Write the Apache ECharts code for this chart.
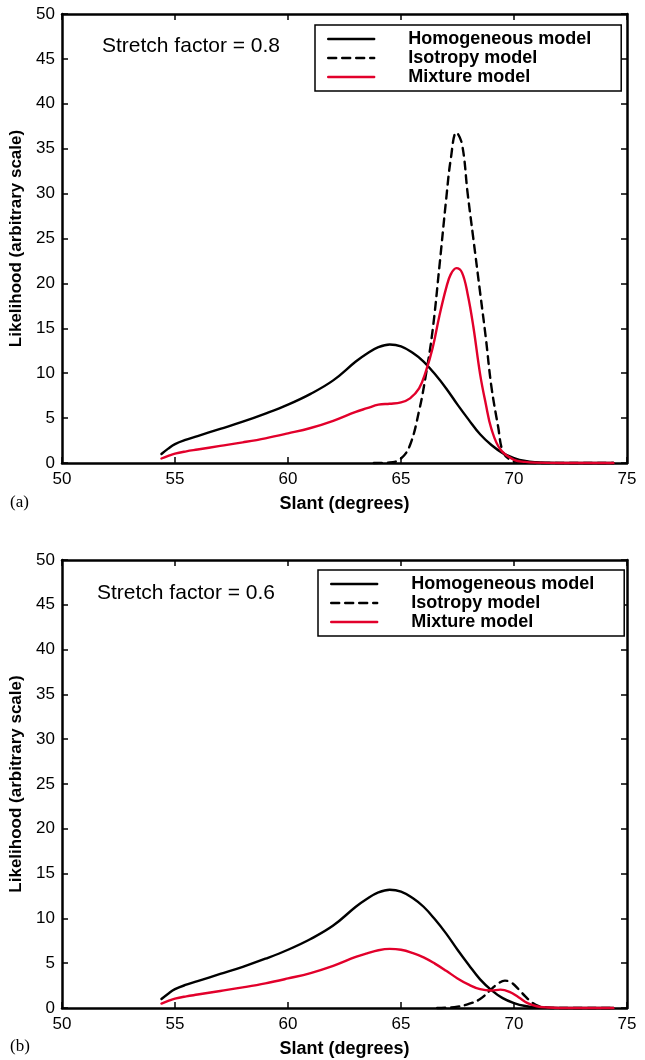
<!DOCTYPE html>
<html>
<head>
<meta charset="utf-8">
<script src="https://cdn.jsdelivr.net/npm/echarts@6/dist/echarts.min.js"></script>
<style>
  html, body { margin: 0; padding: 0; background: #fff; }
  #chart { width: 645px; height: 1060px; }
</style>
</head>
<body>
<div id="chart"></div>
<script>
// Slant (degrees) sample positions and likelihood values for each model
const homogSlant = [54.4, 54.7, 55, 55.5, 56, 57, 58, 59, 60, 61, 62, 63, 63.5, 64, 64.5, 65, 65.5, 66, 66.5, 67, 67.5, 68, 68.5, 69, 69.5, 70, 70.5, 71, 71.5, 72, 73, 74.4];
const homogValues = [1.0, 1.6, 2.1, 2.6, 3.0, 3.8, 4.6, 5.5, 6.5, 7.7, 9.2, 11.3, 12.2, 12.9, 13.2, 13.0, 12.3, 11.3, 9.9, 8.3, 6.5, 4.8, 3.2, 2.0, 1.1, 0.55, 0.22, 0.08, 0.03, 0.01, 0, 0];

// Panel (a): stretch factor 0.8
const isoSlantA = [63.8, 64.5, 65.0, 65.4, 65.8, 66.1, 66.4, 66.7, 67.0, 67.2, 67.45, 67.7, 67.95, 68.2, 68.5, 68.75, 69.0, 69.3, 69.5, 69.8, 70.2, 71.0, 74.4];
const isoValuesA = [0, 0.05, 0.5, 2.0, 5.8, 9.8, 14.8, 21.9, 29.4, 33.8, 36.8, 35.5, 30.0, 25.0, 19.0, 14.0, 8.5, 4.0, 1.3, 0.4, 0.1, 0, 0];
const mixSlantA = [54.4, 54.7, 55, 55.5, 56, 57, 58, 59, 60, 61, 62, 63, 63.5, 64, 64.5, 65, 65.4, 65.8, 66.1, 66.4, 66.7, 67.0, 67.2, 67.45, 67.7, 67.95, 68.2, 68.5, 68.75, 69.0, 69.4, 70, 70.5, 71, 72, 74.4];
const mixValuesA = [0.5, 0.8, 1.05, 1.3, 1.5, 1.9, 2.3, 2.75, 3.3, 3.9, 4.7, 5.7, 6.1, 6.5, 6.6, 6.75, 7.2, 8.3, 10.2, 12.8, 16.4, 19.5, 21.0, 21.7, 21.2, 18.8, 15.2, 9.9, 6.6, 3.8, 1.5, 0.35, 0.12, 0.04, 0, 0];

// Panel (b): stretch factor 0.6
const isoSlantB = [66.6, 67.0, 67.5, 68.0, 68.5, 69.0, 69.3, 69.6, 69.9, 70.2, 70.5, 70.8, 71.1, 71.5, 72.0, 74.4];
const isoValuesB = [0, 0.03, 0.15, 0.45, 1.0, 2.1, 2.75, 3.05, 2.8, 2.1, 1.3, 0.6, 0.2, 0.03, 0, 0];
const mixSlantB = [54.4, 54.7, 55, 55.5, 56, 57, 58, 59, 60, 61, 62, 63, 63.5, 64, 64.5, 65, 65.5, 66, 66.5, 67, 67.5, 68, 68.5, 69, 69.4, 69.8, 70.2, 70.6, 71, 71.5, 72, 74.4];
const mixValuesB = [0.5, 0.8, 1.05, 1.3, 1.5, 1.9, 2.3, 2.75, 3.3, 3.9, 4.7, 5.7, 6.1, 6.45, 6.6, 6.5, 6.15, 5.65, 4.95, 4.15, 3.3, 2.6, 2.1, 1.95, 2.05, 1.8, 1.2, 0.55, 0.2, 0.05, 0, 0];

const seriesNames = ['Homogeneous model', 'Isotropy model', 'Mixture model'];
const stretchLabels = ['Stretch factor = 0.8', 'Stretch factor = 0.6'];
const panelLabels = ['(a)', '(b)'];
const xAxisName = 'Slant (degrees)';
const yAxisName = 'Likelihood (arbitrary scale)';

const SANS = 'Liberation Sans, Arial, Helvetica, sans-serif';
const RED = '#e2002b';

const zip = (xs, ys) => xs.map((x, i) => [x, ys[i]]);

const grids = [
  { left: 62, top: 14, width: 565, height: 449 },
  { left: 62, top: 560, width: 565, height: 448 }
];

const tickStyle = { show: true, inside: true, length: 6, lineStyle: { color: '#000', width: 1.5 } };
const frameLine = { show: true, onZero: false, lineStyle: { color: '#000', width: 2.5 } };

function mainX(gi) {
  return {
    type: 'value', gridIndex: gi, min: 50, max: 75, interval: 5, position: 'bottom',
    name: xAxisName, nameLocation: 'middle', nameGap: 32,
    nameTextStyle: { fontFamily: SANS, fontSize: 18, fontWeight: 'bold', color: '#000' },
    axisLine: frameLine, axisTick: tickStyle,
    axisLabel: { fontFamily: SANS, fontSize: 17, color: '#000', margin: 8 },
    splitLine: { show: false }
  };
}
function mirrorX(gi) {
  return {
    type: 'value', gridIndex: gi, min: 50, max: 75, interval: 5, position: 'top',
    axisLine: frameLine, axisTick: tickStyle,
    axisLabel: { show: false }, splitLine: { show: false }
  };
}
function mainY(gi) {
  return {
    type: 'value', gridIndex: gi, min: 0, max: 50, interval: 5, position: 'left',
    name: yAxisName, nameLocation: 'middle', nameGap: 35, nameRotate: 90,
    nameTextStyle: { fontFamily: SANS, fontSize: 17, fontWeight: 'bold', color: '#000' },
    axisLine: frameLine, axisTick: tickStyle,
    axisLabel: { fontFamily: SANS, fontSize: 17, color: '#000', margin: 7 },
    splitLine: { show: false }
  };
}
function mirrorY(gi) {
  return {
    type: 'value', gridIndex: gi, min: 0, max: 50, interval: 5, position: 'right',
    axisLine: frameLine, axisTick: tickStyle,
    axisLabel: { show: false }, splitLine: { show: false }
  };
}

function curve(name, data, xi, yi, style) {
  return {
    type: 'line', name: name, data: data, xAxisIndex: xi, yAxisIndex: yi,
    symbol: 'none', smooth: 0.4, clip: false,
    lineStyle: Object.assign({ width: 2.4, cap: 'round', join: 'round' }, style),
    itemStyle: { color: style.color },
    emphasis: { disabled: true }, silent: true, animation: false
  };
}

function legendFor(top, left) {
  return {
    orient: 'vertical', left: left, top: top,
    data: seriesNames,
    itemWidth: 46, itemHeight: 14, itemGap: 1,
    padding: [5, 30, 5, 12],
    borderColor: '#000', borderWidth: 1.5, backgroundColor: '#fff',
    selectedMode: false,
    itemStyle: { opacity: 0 },
    lineStyle: { width: 2.4 },
    textStyle: { fontFamily: SANS, fontSize: 18, fontWeight: 'bold', color: '#000', padding: [0, 0, 0, 29], lineHeight: 15 }
  };
}

const option = {
  backgroundColor: '#fff',
  animation: false,
  grid: grids,
  xAxis: [mainX(0), mirrorX(0), mainX(1), mirrorX(1)],
  yAxis: [mainY(0), mirrorY(0), mainY(1), mirrorY(1)],
  legend: [legendFor(25, 315), legendFor(570, 318)],
  series: [
    curve(seriesNames[0], zip(homogSlant, homogValues), 0, 0, { color: '#000' }),
    curve(seriesNames[1], zip(isoSlantA, isoValuesA), 0, 0, { color: '#000', type: [8, 6] }),
    curve(seriesNames[2], zip(mixSlantA, mixValuesA), 0, 0, { color: RED }),
    curve(seriesNames[0], zip(homogSlant, homogValues), 2, 2, { color: '#000' }),
    curve(seriesNames[1], zip(isoSlantB, isoValuesB), 2, 2, { color: '#000', type: [8, 6] }),
    curve(seriesNames[2], zip(mixSlantB, mixValuesB), 2, 2, { color: RED })
  ],
  graphic: [
    { type: 'text', left: 102, top: 36, style: { text: stretchLabels[0], font: '21px ' + SANS, fill: '#000' } },
    { type: 'text', left: 97, top: 583, style: { text: stretchLabels[1], font: '21px ' + SANS, fill: '#000' } },
    { type: 'text', left: 10, top: 494, style: { text: panelLabels[0], font: '17px Liberation Serif, Times New Roman, serif', fill: '#000' } },
    { type: 'text', left: 10, top: 1038, style: { text: panelLabels[1], font: '17px Liberation Serif, Times New Roman, serif', fill: '#000' } }
  ]
};

const chart = echarts.init(document.getElementById('chart'), null, { renderer: 'canvas' });
chart.setOption(option);
</script>
</body>
</html>
